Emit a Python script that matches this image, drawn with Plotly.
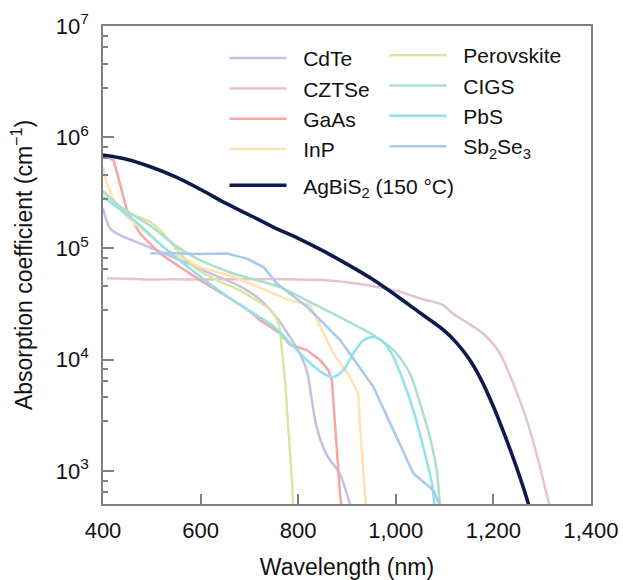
import plotly.graph_objects as go

# ---- data (wavelength in nm, absorption coefficient in cm^-1) ----
cdte_wl = [400, 415, 435, 497, 558, 620, 681, 722, 756, 784, 804, 818, 828, 838, 858, 886, 906, 915]
cdte_a = [2.3e5, 1.5e5, 1.32e5, 1.02e5, 7.85e4, 5.96e4, 4.57e4, 3.47e4, 2.4e4, 1.58e4, 1.12e4, 7.9e3, 4.3e3, 2.45e3, 1.41e3, 9.3e2, 5.1e2, 4.0e2]

cztse_wl = [408, 450, 500, 550, 599, 650, 700, 769, 851, 920, 1009, 1050, 1097, 1117, 1178, 1213, 1240, 1268, 1288, 1312, 1320]
cztse_a = [5.4e4, 5.35e4, 5.25e4, 5.3e4, 5.25e4, 5.3e4, 5.3e4, 5.3e4, 5.2e4, 4.84e4, 4.07e4, 3.55e4, 3.1e4, 2.6e4, 1.73e4, 1.15e4, 6.2e3, 2.9e3, 1.45e3, 5.5e2, 4.0e2]

gaas_wl = [400, 422, 431, 449, 476, 517, 558, 599, 654, 688, 722, 763, 784, 818, 845, 862, 869, 876, 886, 892]
gaas_a = [6.9e5, 6.2e5, 4.4e5, 2.2e5, 1.36e5, 9.0e4, 6.8e4, 5.2e4, 3.7e4, 3.0e4, 2.27e4, 1.72e4, 1.35e4, 1.22e4, 9.9e3, 8.05e3, 6.55e3, 2.33e3, 5.9e2, 4.0e2]

inp_wl = [400, 408, 422, 449, 531, 599, 667, 722, 784, 824, 845, 872, 906, 923, 927, 934, 940]
inp_a = [5.4e5, 3.84e5, 2.72e5, 1.92e5, 9.7e4, 6.8e4, 5.6e4, 4.4e4, 3.4e4, 3.1e4, 1.98e4, 1.14e4, 7.0e3, 5.0e3, 2.33e3, 8.3e2, 4.0e2]

perov_wl = [400, 435, 463, 497, 524, 552, 586, 633, 681, 715, 743, 760, 766, 773, 780, 787, 790, 792]
perov_a = [3.2e5, 2.37e5, 2.0e5, 1.73e5, 1.36e5, 9.7e4, 6.8e4, 5.2e4, 4.2e4, 3.4e4, 2.8e4, 2.1e4, 1.3e4, 6.5e3, 2.3e3, 8.3e2, 4.8e2, 4.0e2]

cigs_wl = [400, 435, 497, 550, 599, 667, 763, 818, 886, 954, 995, 1029, 1050, 1070, 1084, 1091, 1095]
cigs_a = [3.3e5, 2.37e5, 1.6e5, 1.05e5, 7.85e4, 5.96e4, 4.5e4, 3.4e4, 2.4e4, 1.66e4, 1.22e4, 7.5e3, 4.0e3, 2.0e3, 1.0e3, 4.8e2, 4.0e2]

pbs_wl = [400, 463, 531, 599, 667, 749, 784, 818, 852, 872, 893, 913, 934, 954, 974, 995, 1015, 1036, 1056, 1074, 1080, 1085]
pbs_a = [2.9e5, 1.8e5, 9.7e4, 5.6e4, 3.4e4, 2.0e4, 1.4e4, 9.9e3, 7.5e3, 7.0e3, 8.1e3, 1.14e4, 1.5e4, 1.6e4, 1.45e4, 1.06e4, 6.5e3, 3.5e3, 1.65e3, 7.7e2, 4.8e2, 4.0e2]

sb2se3_wl = [497, 531, 599, 654, 695, 729, 756, 818, 886, 954, 995, 1036, 1077, 1091, 1095]
sb2se3_a = [9.0e4, 9.1e4, 8.9e4, 9.0e4, 8.1e4, 6.8e4, 4.85e4, 3.0e4, 1.5e4, 5.7e3, 2.33e3, 9.5e2, 6.7e2, 4.8e2, 4.0e2]

agbis2_wl = [400, 450, 500, 550, 600, 650, 700, 750, 800, 850, 900, 950, 1000, 1050, 1100, 1125, 1150, 1175, 1200, 1225, 1250, 1272, 1280]
agbis2_a = [6.92e5, 6.31e5, 5.37e5, 4.37e5, 3.39e5, 2.57e5, 2.0e5, 1.55e5, 1.23e5, 9.55e4, 7.24e4, 5.37e4, 3.8e4, 2.63e4, 1.82e4, 1.41e4, 1.02e4, 6.6e3, 3.8e3, 2.0e3, 1.0e3, 5.0e2, 3.5e2]

x_ticks = [400, 600, 800, 1000, 1200, 1400]
x_ticklabels = ["400", "600", "800", "1,000", "1,200", "1,400"]
y_ticks = [1e3, 1e4, 1e5, 1e6, 1e7]
y_ticklabels = ["10<sup>3</sup>", "10<sup>4</sup>", "10<sup>5</sup>", "10<sup>6</sup>", "10<sup>7</sup>"]
y_minor = [6.5e2, 8.2e2, 2.8e3, 4.6e3, 6.5e3, 8.2e3, 2.8e4, 4.6e4, 6.5e4, 8.2e4,
           2.8e5, 4.6e5, 6.5e5, 8.2e5, 2.8e6, 4.6e6, 6.5e6, 8.2e6]

series = [
    ("CdTe", cdte_wl, cdte_a, "#c9bfe2", 2.5, "spline", "legend", "g1"),
    ("CZTSe", cztse_wl, cztse_a, "#e5c3d3", 2.5, "spline", "legend", "g1"),
    ("GaAs", gaas_wl, gaas_a, "#f6a6ab", 2.5, "linear", "legend", "g1"),
    ("InP", inp_wl, inp_a, "#fde3b2", 2.5, "linear", "legend", "g1"),
    ("Perovskite", perov_wl, perov_a, "#d7e7a2", 2.5, "spline", "legend2", "g3"),
    ("CIGS", cigs_wl, cigs_a, "#aedfcd", 2.5, "spline", "legend2", "g3"),
    ("PbS", pbs_wl, pbs_a, "#91e2ea", 2.5, "spline", "legend2", "g3"),
    ("Sb<sub>2</sub>Se<sub>3</sub>", sb2se3_wl, sb2se3_a, "#a7c9ea", 2.5, "linear", "legend2", "g3"),
    ("AgBiS<sub>2</sub> (150 °C)", agbis2_wl, agbis2_a, "#0c1a4d", 3.6, "spline", "legend", "g2"),
]

FONT = "Liberation Sans, Arial, Helvetica, sans-serif"
AX = "#808080"

fig = go.Figure()
for name, wl, a, col, w, shape, leg, grp in series:
    fig.add_trace(go.Scatter(
        x=wl, y=a, mode="lines", name="\u00a0\u00a0" + name,
        line=dict(color=col, width=w, shape=shape, smoothing=0.8 if shape == "spline" else None),
        legend=leg, legendgroup=grp,
    ))

fig.update_layout(
    width=623, height=580,
    margin=dict(l=103, r=32, t=26, b=76),
    paper_bgcolor="white", plot_bgcolor="white",
    font=dict(family=FONT, color="#111111", size=21),
    legend=dict(x=0.249, y=0.975, xanchor="left", yanchor="top",
                bgcolor="rgba(0,0,0,0)", font=dict(size=21), itemwidth=57,
                tracegroupgap=6, traceorder="grouped"),
    legend2=dict(x=0.577, y=0.981, xanchor="left", yanchor="top",
                 bgcolor="rgba(0,0,0,0)", font=dict(size=21), itemwidth=57,
                 tracegroupgap=0),
    showlegend=True,
)

fig.update_xaxes(
    range=[400, 1400], tickvals=x_ticks, ticktext=x_ticklabels,
    ticks="inside", ticklen=10, tickwidth=1.5, tickcolor=AX,
    showline=True, linecolor=AX, linewidth=1.8, mirror=True,
    showgrid=False, zeroline=False, automargin=False,
    tickfont=dict(size=22, family=FONT, color="#111111"),
    ticklabelstandoff=6,
    title=dict(text="Wavelength (nm)", font=dict(size=23, family=FONT, color="#111111"), standoff=21),
)
fig.update_yaxes(
    type="log", range=[2.703, 7.0], tickvals=y_ticks, ticktext=y_ticklabels,
    ticks="inside", ticklen=11, tickwidth=1.5, tickcolor=AX,
    minor=dict(tickvals=y_minor, ticks="inside", ticklen=5, tickwidth=1.5, tickcolor=AX, showgrid=False),
    showline=True, linecolor=AX, linewidth=1.8, mirror=True,
    showgrid=False, zeroline=False, automargin=False,
    tickfont=dict(size=22, family=FONT, color="#111111"),
    ticklabelstandoff=8,
    title=dict(text="Absorption coefficient (cm<sup>−1</sup>)", font=dict(size=23, family=FONT, color="#111111"), standoff=17),
)

fig.write_html("out.html")
